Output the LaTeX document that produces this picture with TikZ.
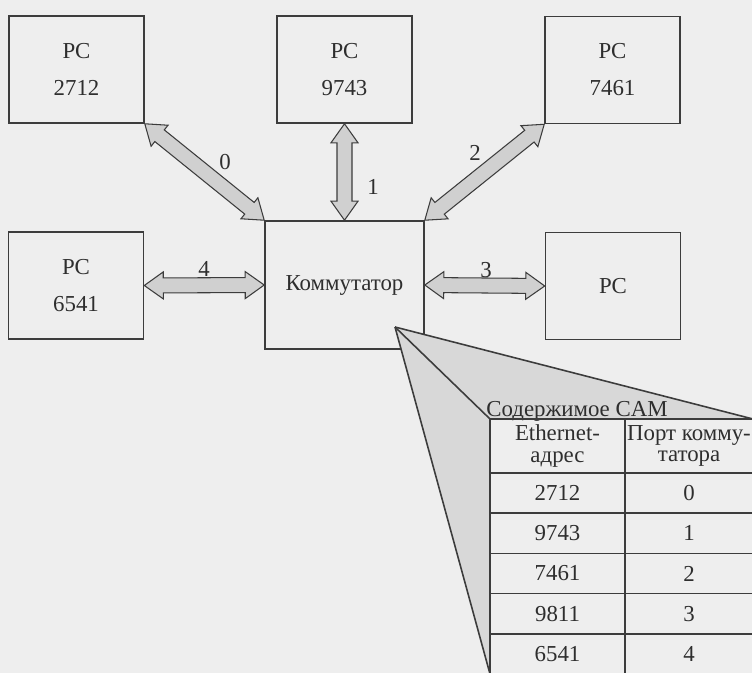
\documentclass[tikz,border=0pt]{standalone}
\usepackage{fontspec}
\setmainfont{Liberation Serif}
\usetikzlibrary{
  positioning,
  calc,
}
\definecolor{paper}{HTML}{EEEEEE}
\definecolor{border}{HTML}{3C3C3C}
\definecolor{textCol}{HTML}{2E2E2E}
\definecolor{linkFill}{HTML}{D0D0D0}
\definecolor{camFill}{HTML}{D8D8D8}
\newcommand{\diagfont}{\fontsize{13}{21}\selectfont}
\newcommand{\cellfont}{\fontsize{13}{12}\selectfont}
\tikzset{
  pcbox/.style={
    rectangle, draw=border, line width=0.9pt, text=textCol,
    font=\diagfont, align=center, inner sep=0pt,
    minimum width=2.70cm, minimum height=2.14cm,
  },
  swbox/.style={
    pcbox, minimum width=3.18cm, minimum height=2.56cm,
  },
  linkarrow/.style={draw=border, fill=linkFill, line width=0.6pt},
  portlbl/.style={font=\diagfont, text=textCol, inner sep=0pt},
  camline/.style={draw=border, line width=0.9pt},
  camfill/.style={fill=camFill},
  hcell/.style={
    rectangle, draw=border, line width=0.9pt, inner sep=0pt, outer sep=0pt,
    font=\cellfont, text=textCol, align=center, minimum height=1.08cm,
  },
  tcell/.style={hcell, minimum height=0.804cm},
}
% double block arrow between two anchors
\newcommand{\portlink}[2]{%
  \coordinate (ha) at ($(#1)!0.38cm!(#2)$);
  \coordinate (hb) at ($(#2)!0.38cm!(#1)$);
  \filldraw[linkarrow] (#1)
    -- ($(ha)!0.27cm!90:(#2)$) -- ($(ha)!0.15cm!90:(#2)$)
    -- ($(hb)!0.15cm!-90:(#1)$) -- ($(hb)!0.27cm!-90:(#1)$)
    -- (#2)
    -- ($(hb)!0.27cm!90:(#1)$) -- ($(hb)!0.15cm!90:(#1)$)
    -- ($(ha)!0.15cm!-90:(#2)$) -- ($(ha)!0.27cm!-90:(#2)$)
    -- cycle;
}

\begin{document}
\begin{tikzpicture}

  \useasboundingbox (0,0) rectangle (15.04,-13.46);
  \clip (0,0) rectangle (15.04,-13.46);
  \fill[paper] (0,0) rectangle (15.04,-13.46);

  % Stations and switch
  \node[pcbox] (pc2712) at (1.53,-1.39) {PC\\2712};
  \node[pcbox] (pc9743) at (6.89,-1.39) {PC\\9743};
  \node[pcbox] (pc7461) at (12.25,-1.40) {PC\\7461};
  \node[pcbox] (pc6541) at (1.52,-5.71) {PC\\6541};
  \node[pcbox] (pc9811) at (12.26,-5.72) {PC};
  \node[swbox] (sw) at (6.89,-5.70) {Коммутатор};

  % Port links
  \portlink{pc2712.south east}{sw.north west}
  \portlink{pc9743.south}{sw.north}
  \portlink{sw.north east}{pc7461.south west}
  \portlink{sw.east}{pc9811.west}
  \portlink{pc6541.east}{sw.west}

  \node[portlbl] (lbl0) at (4.50,-3.24) {0};
  \node[portlbl] (lbl1) at (7.46,-3.74) {1};
  \node[portlbl] (lbl2) at (9.50,-3.06) {2};
  \node[portlbl] (lbl3) at (9.72,-5.40) {3};
  \node[portlbl] (lbl4) at (4.08,-5.38) {4};

  % CAM callout
  \coordinate (camtip) at (7.90,-6.54);
  \coordinate (camTL) at (9.80,-8.38);
  \coordinate (camTR) at (15.06,-8.38);
  \coordinate (camBL) at (9.80,-13.48);
  \fill[camfill] (camtip) -- (camTR) -- (camTL) -- (camBL) -- cycle;
  \draw[camline] (camtip) -- (camTL);
  \draw[camline] (camtip) -- (camBL);
  \draw[camline] (camtip) -- (camTR);

  \node[font=\cellfont, text=textCol, anchor=base west, inner sep=0pt] (camtitle) at (9.72,-8.33) {Содержимое CAM};

  % CAM table
  \node[hcell, minimum width=2.70cm, anchor=north west] (hA) at (camTL) {Ethernet-\\адрес};
  \node[hcell, minimum width=2.56cm, right=0pt of hA] (hP) {Порт комму-\\татора};
  \node[tcell, minimum width=2.70cm, below=0pt of hA] (a1) {2712};
  \node[tcell, minimum width=2.56cm, right=0pt of a1] (p1) {0};
  \node[tcell, minimum width=2.70cm, below=0pt of a1] (a2) {9743};
  \node[tcell, minimum width=2.56cm, right=0pt of a2] (p2) {1};
  \node[tcell, minimum width=2.70cm, below=0pt of a2] (a3) {7461};
  \node[tcell, minimum width=2.56cm, right=0pt of a3] (p3) {2};
  \node[tcell, minimum width=2.70cm, below=0pt of a3] (a4) {9811};
  \node[tcell, minimum width=2.56cm, right=0pt of a4] (p4) {3};
  \node[tcell, minimum width=2.70cm, below=0pt of a4] (a5) {6541};
  \node[tcell, minimum width=2.56cm, right=0pt of a5] (p5) {4};

\end{tikzpicture}
\end{document}
